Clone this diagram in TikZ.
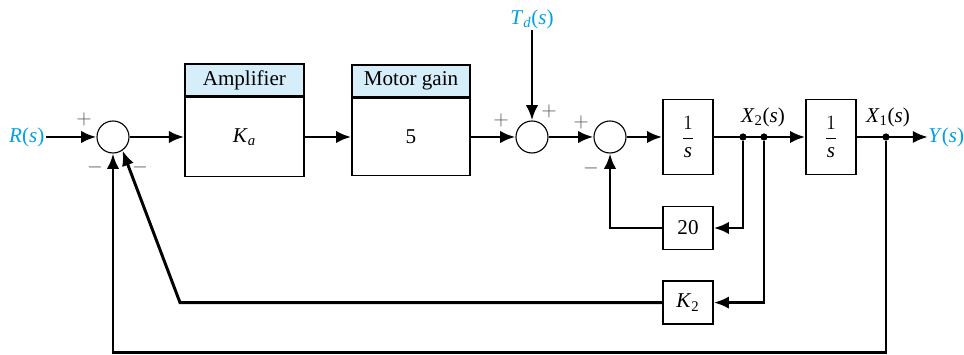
\documentclass[tikz,border=0pt]{standalone}
\usepackage{fontspec}
\setmainfont{Liberation Serif}
\usetikzlibrary{arrows.meta,positioning}
\definecolor{sigblue}{RGB}{0,160,227}
\definecolor{hdrblue}{RGB}{214,238,250}
\newcommand{\iv}[1]{\textit{#1}}

\begin{document}
\begin{tikzpicture}[>={Latex[length=3.8mm,width=3.1mm]},
  font=\fontsize{15}{17}\selectfont,
  blk/.style={draw,line width=1pt,rectangle,minimum width=1.25cm,inner sep=0pt},
  hdr/.style={draw,line width=1pt,fill=hdrblue,rectangle,minimum height=0.8cm,inner sep=0pt},
  sum/.style={draw,line width=0.8pt,circle,minimum size=0.8cm,inner sep=0pt},
  sig/.style={line width=2.1pt},
  dot/.style={circle,fill,inner sep=0pt,minimum size=0.18cm},
  sgn/.style={inner sep=0pt,text=black!70}]
\useasboundingbox (0,0) rectangle (24.1,8.875);

% summing junctions
\node[sum] (s1) at (2.825,5.45) {};
\node[sum] (s2) at (13.3,5.45) {};
\node[sum] (s3) at (15.25,5.45) {};

% forward path blocks
\node[blk,minimum width=2.975cm,minimum height=1.975cm] (amp) at (6.11,5.45) {\iv{K}\textsubscript{\iv{a}}};
\node[hdr,minimum width=2.975cm,anchor=south] (amphdr) at (amp.north) {Amplifier};
\node[blk,minimum width=2.95cm,minimum height=1.925cm] (mot) at (10.275,5.45) {5};
\node[hdr,minimum width=2.95cm,anchor=south] (mothdr) at (mot.north) {Motor gain};
\node[blk,minimum height=1.875cm] (int1) at (17.2,5.45) {$\displaystyle\frac{1}{\iv{s}}$};
\node[blk,minimum height=1.875cm] (int2) at (20.775,5.45) {$\displaystyle\frac{1}{\iv{s}}$};

% feedback blocks
\node[blk,minimum height=1.075cm] (g20) at (17.2,3.175) {20};
\node[blk,minimum height=1.075cm] (k2) at (17.2,1.31) {\iv{K}\textsubscript{2}};

% inputs and outputs
\node[anchor=east,inner sep=1pt,text=sigblue] (rlab) at (1.15,5.45) {\iv{R}(\iv{s})};
\node[inner sep=1pt,text=sigblue] (td) at (13.3,8.4) {\iv{T}\textsubscript{\iv{d}}(\iv{s})};
\node[anchor=west,inner sep=0pt,text=sigblue] (ylab) at (23.2,5.45) {\iv{Y}(\iv{s})};
\node (x2lab) at (19.075,5.95) {\iv{X}\textsubscript{2}(\iv{s})};
\node (x1lab) at (22.2,5.95) {\iv{X}\textsubscript{1}(\iv{s})};

% branch points
\node[dot] (d1) at (18.575,5.45) {};
\node[dot] (d2) at (19.1,5.45) {};
\node[dot] (d3) at (22.15,5.45) {};
\coordinate (kc) at (4.5,1.31);
\coordinate (bot) at (2.825,0.06);

% signs
\node[sgn] (p1) at (2.1,5.9) {$+$};
\node[sgn] (m1a) at (2.375,4.7) {$-$};
\node[sgn] (m1b) at (3.5,4.7) {$-$};
\node[sgn] (p2a) at (12.525,5.875) {$+$};
\node[sgn] (p2b) at (13.725,6.1) {$+$};
\node[sgn] (p3) at (14.525,5.825) {$+$};
\node[sgn] (m3) at (14.775,4.675) {$-$};

% connections
\draw[sig,->] (rlab) -- (s1);
\draw[sig,->] (s1) -- (amp);
\draw[sig,->] (amp) -- (mot);
\draw[sig,->] (mot) -- (s2);
\draw[sig,->] (td) -- (s2);
\draw[sig,->] (s2) -- (s3);
\draw[sig,->] (s3) -- (int1);
\draw[sig,->] (int1) -- (int2);
\draw[sig,->] (int2) -- (ylab);
\draw[sig,->] (d1) |- (g20);
\draw[sig,->] (g20) -| (s3);
\draw[sig,->] (d2) |- (k2);
\draw[sig,->] (k2) -- (kc) -- (s1.-55);
\draw[sig,->] (d3) |- (bot) -- (s1);
\end{tikzpicture}
\end{document}
